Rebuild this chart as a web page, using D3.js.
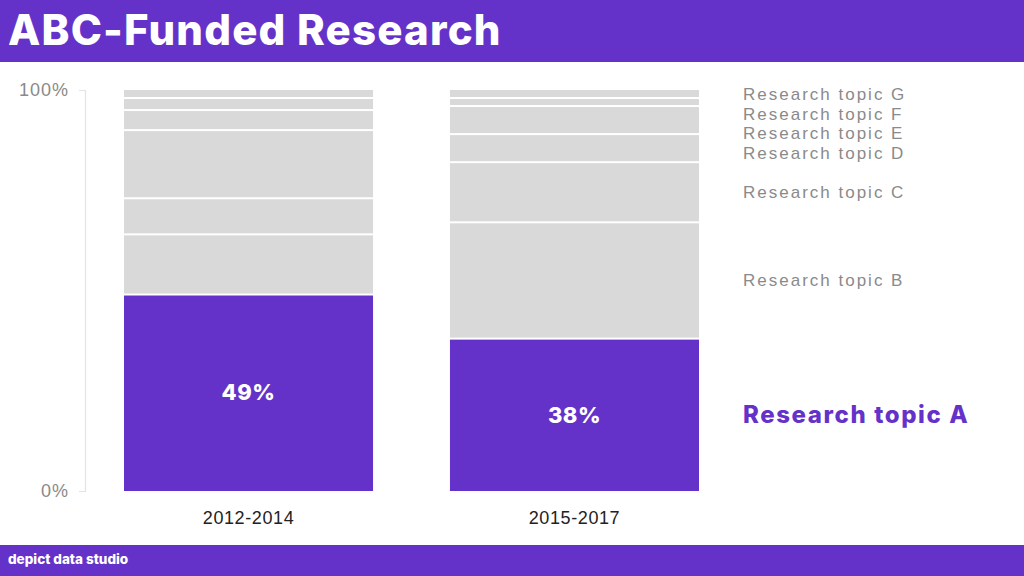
<!DOCTYPE html>
<html>
<head>
<meta charset="utf-8">
<script src="https://cdn.jsdelivr.net/npm/d3@7"></script>
<style>
  html, body { margin: 0; padding: 0; background: #fff; }
  svg { display: block; }
</style>
</head>
<body>
<div id="chart"></div>
<script>
const periods = ["2012-2014", "2015-2017"];
const topics = ["Research topic A", "Research topic B", "Research topic C", "Research topic D",
  "Research topic E", "Research topic F", "Research topic G"];
// shares in percent, topic A first, per period
const shares2012 = [49, 15, 9, 17, 5, 3, 2];
const shares2015 = [38, 29, 15, 7, 7, 2, 2];
const yTicks = [0, 100];

const purple = "#6532c9";
const grey = "#d9d9d9";
const W = 1024, H = 576;

const svg = d3.select("#chart").append("svg").attr("width", W).attr("height", H);

// header and footer bands
svg.append("rect").attr("x", 0).attr("y", 0).attr("width", W).attr("height", 62).attr("fill", purple);
svg.append("text").attr("x", 8).attr("y", 45)
  .attr("fill", "#fff").attr("font-family", "Inter, 'Open Sans', sans-serif")
  .attr("font-weight", 800).attr("font-size", 42).attr("letter-spacing", "1.2")
  .text("ABC-Funded Research");
svg.append("rect").attr("x", 0).attr("y", 545).attr("width", W).attr("height", H - 545).attr("fill", purple);
svg.append("text").attr("x", 8).attr("y", 564)
  .attr("fill", "#fff").attr("font-family", "Inter, sans-serif")
  .attr("font-weight", 800).attr("font-size", 13.5)
  .text("depict data studio");

const x = d3.scaleBand().domain(periods).range([124, 699]).paddingInner(0.236).paddingOuter(0);
const y = d3.scaleLinear().domain([0, 100]).range([491, 90]);

// axis
const axis = svg.append("g").attr("transform", "translate(85,0)")
  .call(d3.axisLeft(y).tickValues(yTicks).tickFormat(d => d + "%").tickSize(6).tickPadding(10));
axis.select(".domain").attr("stroke", "#e3e3e3").attr("stroke-width", 1.2);
axis.selectAll(".tick line").attr("stroke", "#e3e3e3");
axis.selectAll(".tick text").attr("fill", "#8a8a8a")
  .attr("font-family", "'Liberation Sans', sans-serif").attr("font-size", 18)
  .attr("letter-spacing", "1");

const series = [shares2012, shares2015];
const stacks = series.map((vals, i) => {
  let acc = 0;
  return vals.map((v, j) => {
    const d = { period: periods[i], topic: topics[j], idx: j, y0: acc, y1: acc + v, value: v };
    acc += v;
    return d;
  });
});

const bars = svg.append("g").selectAll("g").data(stacks).join("g");
bars.selectAll("rect").data(d => d).join("rect")
  .attr("x", d => x(d.period))
  .attr("width", x.bandwidth())
  .attr("y", d => y(d.y1) + (d.y1 < 100 ? 1 : 0))
  .attr("height", d => Math.max(0, y(d.y0) - y(d.y1) - (d.y1 < 100 ? 1 : 0) - (d.y0 > 0 ? 1 : 0)))
  .attr("fill", d => d.idx === 0 ? purple : grey);

// value labels on topic A
svg.append("g").selectAll("text").data(stacks.map(s => s[0])).join("text")
  .attr("x", d => x(d.period) + x.bandwidth() / 2)
  .attr("y", d => y((d.y0 + d.y1) / 2))
  .attr("dy", "0.35em").attr("text-anchor", "middle")
  .attr("fill", "#fff").attr("font-family", "Inter, sans-serif")
  .attr("font-weight", 800).attr("font-size", 22).attr("letter-spacing", "0.5")
  .text(d => d.value + "%");

// category labels
svg.append("g").selectAll("text").data(periods).join("text")
  .attr("x", d => x(d) + x.bandwidth() / 2).attr("y", 524)
  .attr("text-anchor", "middle").attr("fill", "#222")
  .attr("font-family", "'Liberation Sans', sans-serif").attr("font-size", 18)
  .attr("letter-spacing", "0.6")
  .text(d => d);

// right-hand labels at last bar's segment centres, pushed apart from top down
const last = stacks[stacks.length - 1].map(d => ({ ...d, ly: y((d.y0 + d.y1) / 2) }));
const ordered = last.slice().sort((a, b) => a.ly - b.ly);
for (let i = 1; i < ordered.length; i++) {
  ordered[i].ly = Math.max(ordered[i].ly, ordered[i - 1].ly + 19.6);
}
svg.append("g").selectAll("text").data(last).join("text")
  .attr("x", 743).attr("y", d => d.ly).attr("dy", "0.35em")
  .attr("fill", d => d.idx === 0 ? purple : "#8a8a8a")
  .attr("font-family", d => d.idx === 0 ? "Inter, sans-serif" : "'Liberation Sans', sans-serif")
  .attr("font-weight", d => d.idx === 0 ? 800 : 400)
  .attr("font-size", d => d.idx === 0 ? 24 : 17)
  .attr("letter-spacing", d => d.idx === 0 ? "1.6" : "2")
  .text(d => d.topic);
</script>
</body>
</html>
